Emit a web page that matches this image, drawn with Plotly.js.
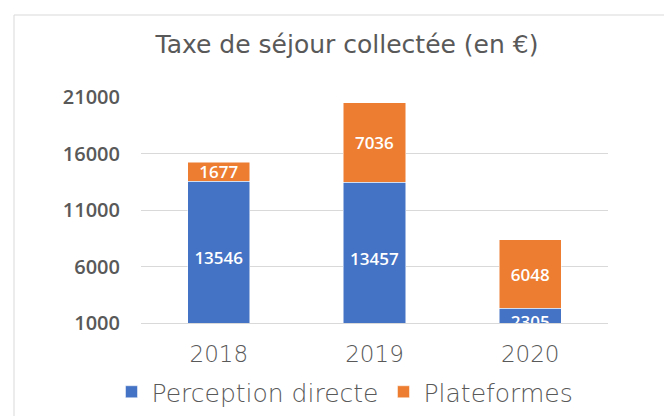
<!DOCTYPE html>
<html>
<head>
<meta charset="utf-8">
<script src="https://cdn.plot.ly/plotly-3.0.1.min.js"></script>
<style>
html,body{margin:0;padding:0;background:#fff;}
#chart{width:664px;height:416px;}
</style>
</head>
<body>
<div id="chart"></div>
<script>
var years = ['2018', '2019', '2020'];
var perceptionDirecte = [13546, 13457, 2305];
var plateformes = [1677, 7036, 6048];
var yTicks = [1000, 6000, 11000, 16000, 21000];
var seriesNames = ['Perception directe', 'Plateformes'];

var labelFont = {family: 'Open Sans, Noto Sans, sans-serif', size: 17, color: '#ffffff', weight: 600};
var wideFont = 'DejaVu Sans, Verdana, sans-serif';

var traces = [
  {
    type: 'bar', name: seriesNames[0], x: years, y: perceptionDirecte,
    text: perceptionDirecte.map(String), textposition: 'inside', insidetextanchor: 'middle',
    constraintext: 'none', textfont: labelFont, textangle: 0,
    marker: {color: '#4472C4', line: {color: '#ffffff', width: 0.5}},
    hoverinfo: 'x+y+name'
  },
  {
    type: 'bar', name: seriesNames[1], x: years, y: plateformes,
    text: plateformes.map(String), textposition: 'inside', insidetextanchor: 'middle',
    constraintext: 'none', textfont: labelFont, textangle: 0,
    marker: {color: '#ED7D31', line: {color: '#ffffff', width: 0.5}},
    hoverinfo: 'x+y+name'
  }
];

var L = 141, R = 608, T = 97, B = 323;
function px(x){ return (x - L) / (R - L); }
function py(y){ return (B - y) / (B - T); }

var layout = {
  width: 664, height: 416,
  margin: {l: L, r: 664 - R, t: T, b: 416 - B, pad: 0, autoexpand: false},
  paper_bgcolor: '#ffffff', plot_bgcolor: '#ffffff',
  barmode: 'stack', bargap: 0.6,
  title: {
    text: 'Taxe de séjour collectée (en €)',
    font: {family: wideFont, size: 25, color: '#595959', weight: 400},
    x: px(347), xref: 'paper', xanchor: 'center',
    y: 1 - 44 / 416, yref: 'container', yanchor: 'middle'
  },
  xaxis: {
    type: 'category', showgrid: false, zeroline: false, automargin: false,
    showline: true, linecolor: '#d9d9d9', linewidth: 1,
    ticks: '', tickfont: {family: wideFont, size: 23, color: '#595959', weight: 300},
    ticklabelstandoff: 10
  },
  yaxis: {
    range: [1000, 21000], tickvals: yTicks, ticktext: yTicks.map(String), automargin: false,
    showgrid: true, gridcolor: '#d9d9d9', gridwidth: 1, zeroline: false, showline: false,
    ticks: '', tickfont: {family: 'Open Sans, Noto Sans, sans-serif', size: 20, color: '#595959', weight: 600},
    ticklabelstandoff: 20
  },
  showlegend: true,
  legend: {
    orientation: 'h', x: px(345), xanchor: 'center', y: py(392), yanchor: 'middle',
    font: {family: wideFont, size: 25, color: '#595959', weight: 300},
    traceorder: 'normal', itemwidth: 30, bgcolor: 'rgba(0,0,0,0)'
  },
  shapes: [{
    type: 'rect', xref: 'paper', yref: 'paper',
    x0: px(14), x1: px(680), y0: py(430), y1: py(15),
    line: {color: '#d9d9d9', width: 1}, fillcolor: 'rgba(0,0,0,0)', layer: 'below'
  }]
};

Plotly.newPlot('chart', traces, layout, {displayModeBar: false, staticPlot: true});
</script>
</body>
</html>
